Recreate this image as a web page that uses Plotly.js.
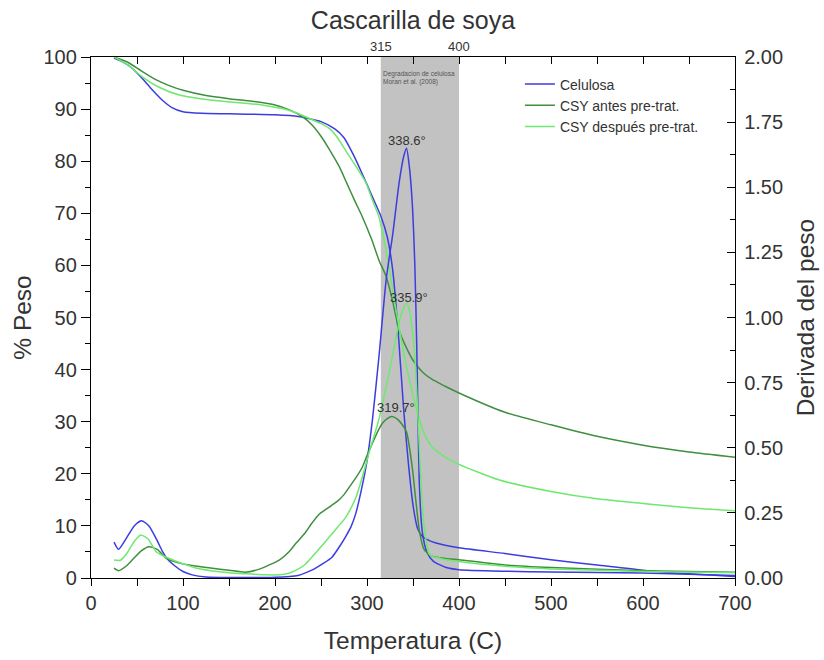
<!DOCTYPE html>
<html>
<head>
<meta charset="utf-8">
<script src="https://cdn.plot.ly/plotly-3.0.1.min.js"></script>
<style>html,body{margin:0;padding:0;background:#fff;}</style>
</head>
<body>
<div id="chart" style="width:824px;height:660px;"></div>
<script>
// ---- Series names ----
const seriesNames = ["Celulosa", "CSY antes pre-trat.", "CSY después pre-trat."];

// ---- TG (% Peso) ----
const celTGx = [25, 35, 45, 55, 65, 77, 88, 100, 120, 150, 200, 225, 250, 265, 275, 285, 295, 305, 315, 322, 328, 334, 340, 345, 350, 355, 360, 365, 375, 400, 450, 500, 550, 600, 650, 700];
const celTGy = [99.8, 99.0, 97.8, 96.0, 94.0, 91.8, 90.3, 89.5, 89.2, 89.1, 88.9, 88.6, 87.6, 86.2, 84.5, 81.3, 77.5, 73.5, 69.5, 65.5, 59.0, 47.0, 32.0, 22.0, 14.0, 9.5, 8.0, 7.4, 6.7, 5.8, 4.7, 3.5, 2.5, 1.5, 0.8, 0.3];

const antTGx = [25, 40, 55, 71, 85, 100, 125, 150, 175, 200, 215, 230, 240, 250, 260, 270, 278, 287, 295, 305, 313, 321, 328, 335, 342, 350, 360, 370, 385, 400, 450, 500, 550, 600, 650, 700];
const antTGy = [100, 99.0, 97.3, 95.6, 94.5, 93.6, 92.6, 92.0, 91.5, 90.8, 89.9, 88.5, 87.0, 84.8, 82.0, 78.9, 75.8, 72.3, 69.3, 65.0, 61.0, 57.8, 53.0, 47.5, 44.5, 41.8, 39.6, 38.2, 36.8, 35.5, 31.8, 29.4, 27.2, 25.5, 24.2, 23.2];

const desTGx = [25, 40, 55, 74, 96, 132, 186, 210, 223, 240, 250, 259, 268, 277, 288, 299, 306, 313, 319, 324, 330, 336, 343, 350, 356, 362, 370, 385, 400, 444, 500, 550, 600, 650, 700];
const desTGy = [100, 98.5, 96.3, 94.2, 92.7, 91.7, 90.8, 90.0, 89.3, 88.0, 87.2, 86.3, 84.5, 82.0, 79.0, 75.8, 72.5, 69.3, 64.5, 59.7, 53.0, 47.0, 40.5, 35.0, 31.0, 27.8, 25.3, 23.2, 21.8, 18.8, 16.6, 15.2, 14.3, 13.5, 12.9];

// ---- DTG (Derivada del peso) ----
const celDTGx = [25, 30, 38, 47, 55, 63, 71, 78, 82, 90, 100, 110, 125, 150, 200, 225, 240, 252, 262, 270, 277, 283, 288, 294, 300, 306, 313, 321, 328, 335, 340, 343, 346, 349, 352, 354, 355.5, 357, 360, 365, 372, 386, 400, 450, 500, 600, 700];
const celDTGy = [0.138, 0.11, 0.15, 0.2, 0.22, 0.2, 0.15, 0.1, 0.077, 0.05, 0.025, 0.012, 0.004, 0.002, 0.003, 0.01, 0.03, 0.055, 0.08, 0.12, 0.16, 0.2, 0.25, 0.34, 0.45, 0.61, 0.85, 1.15, 1.32, 1.52, 1.62, 1.65, 1.58, 1.45, 1.2, 0.9, 0.6, 0.35, 0.18, 0.1, 0.065, 0.04, 0.032, 0.026, 0.023, 0.019, 0.01];

const antDTGx = [25, 30, 38, 45, 55, 63, 72, 82, 95, 114, 130, 150, 168, 186, 205, 215, 223, 232, 240, 248, 256, 262, 268, 275, 281, 288, 295, 300, 306, 312, 317, 322, 327, 333, 338, 343, 349, 353, 357, 362, 370, 385, 400, 450, 500, 600, 700];
const antDTGy = [0.038, 0.028, 0.045, 0.07, 0.105, 0.12, 0.11, 0.075, 0.058, 0.046, 0.038, 0.03, 0.022, 0.038, 0.07, 0.1, 0.134, 0.17, 0.21, 0.245, 0.265, 0.28, 0.295, 0.32, 0.35, 0.385, 0.426, 0.47, 0.518, 0.565, 0.595, 0.612, 0.62, 0.61, 0.59, 0.56, 0.43, 0.3, 0.18, 0.11, 0.085, 0.075, 0.07, 0.05, 0.04, 0.028, 0.022];

const desDTGx = [25, 32, 40, 47, 54, 62, 71, 85, 100, 114, 130, 150, 168, 190, 205, 215, 223, 232, 240, 250, 259, 268, 277, 288, 294, 303, 313, 320, 327, 333, 338, 343, 346, 349, 352, 355, 358, 362, 368, 380, 400, 450, 500, 600, 700];
const desDTGy = [0.069, 0.068, 0.1, 0.14, 0.165, 0.15, 0.1, 0.075, 0.055, 0.038, 0.028, 0.02, 0.016, 0.012, 0.012, 0.018, 0.03, 0.05, 0.08, 0.12, 0.157, 0.195, 0.234, 0.31, 0.376, 0.49, 0.61, 0.72, 0.84, 0.95, 1.02, 1.056, 1.03, 0.96, 0.85, 0.65, 0.42, 0.2, 0.09, 0.075, 0.063, 0.045, 0.035, 0.025, 0.02];

// ---- Labels ----
const peakLabels = ["338.6°", "335.9°", "319.7°"];
const peakLabelX = [343, 346, 331];
const peakLabelY = [84, 53.9, 32.8];
const zoneRange = [315, 400];
const zoneTopLabels = ["315", "400"];
const zoneNote = "Degradacion de celulosa<br>Moran et al. (2008)";

const colors = ["#3c3ce0", "#3f8f3f", "#6ee86e"];
const FONT = "Liberation Sans, Arial, sans-serif";
const TXT = "#333";

const TGx = [celTGx, antTGx, desTGx], TGy = [celTGy, antTGy, desTGy];
const DTGx = [celDTGx, antDTGx, desDTGx], DTGy = [celDTGy, antDTGy, desDTGy];

const traces = [];
for (let i = 0; i < 3; i++) {
  traces.push({
    x: TGx[i], y: TGy[i], type: "scatter", mode: "lines", name: seriesNames[i],
    line: {color: colors[i], width: 1.5, shape: "spline", smoothing: 0.6},
    xaxis: "x", yaxis: "y"
  });
}
for (let i = 0; i < 3; i++) {
  traces.push({
    x: DTGx[i], y: DTGy[i], type: "scatter", mode: "lines", name: seriesNames[i],
    showlegend: false,
    line: {color: colors[i], width: 1.5, shape: "spline", smoothing: 0.6},
    xaxis: "x2", yaxis: "y2"
  });
}

const annotations = [];
for (let i = 0; i < peakLabels.length; i++) {
  annotations.push({x: peakLabelX[i], y: peakLabelY[i], xref: "x", yref: "y", text: peakLabels[i],
    showarrow: false, font: {family: FONT, size: 13, color: TXT}});
}
for (let i = 0; i < 2; i++) {
  annotations.push({x: zoneRange[i], y: 1, xref: "x", yref: "paper", text: zoneTopLabels[i],
    showarrow: false, yanchor: "bottom", yshift: 1, font: {family: FONT, size: 13, color: TXT}});
}
annotations.push({x: zoneRange[0], y: 97.9, xref: "x", yref: "y", text: zoneNote, align: "left",
  xanchor: "left", yanchor: "top", xshift: 0, showarrow: false, font: {family: FONT, size: 6.5, color: "#555"}});

const layout = {
  width: 824, height: 660,
  margin: {l: 91, r: 89, t: 57, b: 82},
  paper_bgcolor: "#fff", plot_bgcolor: "#fff",
  font: {family: FONT, color: TXT},
  title: {text: "Cascarilla de soya", x: 0.5012, xanchor: "center", y: 0.970, yanchor: "middle",
    font: {family: FONT, size: 25, color: TXT}},
  showlegend: true,
  legend: {x: 0.666, y: 0.978, xanchor: "left", yanchor: "top", bgcolor: "rgba(0,0,0,0)",
    font: {family: FONT, size: 14, color: TXT}, tracegroupgap: 0, itemwidth: 30},
  xaxis: {range: [0, 700], dtick: 100, tick0: 0, showgrid: false, zeroline: false,
    showline: true, linecolor: "#000", linewidth: 1.2, ticks: "outside", ticklen: 7, tickcolor: "#000",
    minor: {dtick: 50, tick0: 0, ticks: "outside", ticklen: 7, tickcolor: "#000"},
    tickfont: {family: FONT, size: 20, color: TXT},
    title: {text: "Temperatura (C)", font: {family: FONT, size: 24.5, color: TXT}, standoff: 18}},
  xaxis2: {range: [0, 700], overlaying: "x", side: "top", anchor: "y2", dtick: 50, tick0: 0,
    showgrid: false, zeroline: false, showline: true, linecolor: "#000", linewidth: 1.2,
    ticks: "inside", ticklen: 7, tickcolor: "#000", showticklabels: false},
  yaxis: {range: [0, 100], dtick: 10, tick0: 0, showgrid: false, zeroline: false,
    showline: true, linecolor: "#000", linewidth: 1.2, ticks: "outside", ticklen: 9, tickcolor: "#000",
    minor: {dtick: 5, tick0: 0, ticks: "outside", ticklen: 5, tickcolor: "#000"},
    tickfont: {family: FONT, size: 20, color: TXT},
    title: {text: "% Peso", font: {family: FONT, size: 24.5, color: TXT}, standoff: 4}},
  yaxis2: {range: [0, 2], overlaying: "y", side: "right", anchor: "x2", dtick: 0.25, tick0: 0,
    tickformat: ".2f", showgrid: false, zeroline: false, showline: true, linecolor: "#000", linewidth: 1.2,
    ticks: "inside", ticklen: 8, tickcolor: "#000", ticklabelstandoff: 4,
    minor: {dtick: 0.125, tick0: 0, ticks: "inside", ticklen: 5, tickcolor: "#000"},
    tickfont: {family: FONT, size: 20, color: TXT},
    title: {text: "Derivada del peso", font: {family: FONT, size: 24.5, color: TXT}, standoff: 14}},
  shapes: [{type: "rect", xref: "x", yref: "paper", x0: zoneRange[0], x1: zoneRange[1], y0: 0, y1: 1,
    fillcolor: "#c2c2c2", line: {width: 0}, layer: "below"}],
  annotations: annotations
};

Plotly.newPlot("chart", traces, layout, {displayModeBar: false, staticPlot: true});
</script>
</body>
</html>
